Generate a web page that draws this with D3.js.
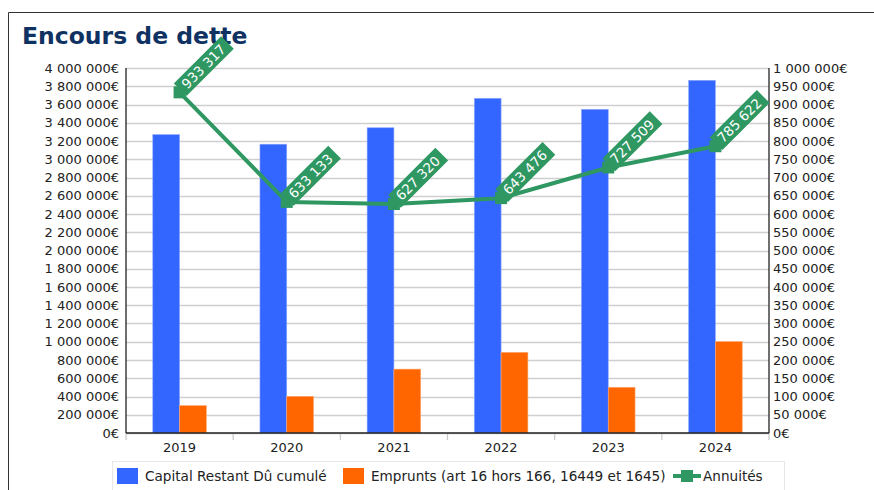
<!DOCTYPE html>
<html><head><meta charset="utf-8">
<script src="https://cdn.jsdelivr.net/npm/d3@7/dist/d3.min.js"></script>
<style>
html,body{margin:0;padding:0;background:#fff;}
text{font-family:"DejaVu Sans",sans-serif;}
</style></head>
<body>
<svg id="c" width="874" height="490"></svg>
<script>
const categories = ["2019","2020","2021","2022","2023","2024"];
const capitalRestantDu = [3270000, 3165000, 3345000, 3668000, 3547000, 3865000];
const emprunts = [300000, 402000, 700000, 884000, 501000, 1002000];
const annuites = [933317, 633133, 627320, 643476, 727509, 785622];
const leftTicks = d3.range(0, 4000001, 200000);
const rightTicks = d3.range(0, 1000001, 50000);
const seriesNames = ["Capital Restant Dû cumulé", "Emprunts (art 16 hors 166, 16449 et 1645)", "Annuités"];
const colors = {blue:"#3366ff", orange:"#ff6600", green:"#2f9762"};

const svg = d3.select("#c");
const loc = d3.formatLocale({decimal:",", thousands:" ", grouping:[3], currency:["","€"]});
const fmtE = v => loc.format(",")(v) + "€";
const fmtN = v => loc.format(",")(v);

// frame
svg.append("path").attr("d","M8.5,490 V12.5 H874").attr("fill","none").attr("stroke","#333").attr("stroke-width",1);

svg.append("text").attr("x",22).attr("y",44).attr("font-size",23.5).attr("font-weight","bold")
  .attr("fill","#0f3262").text("Encours de dette");

const L = 126, R = 769, T = 68, B = 433;
const x0 = d3.scaleBand().domain(categories).range([L,R]).paddingInner(0.5).paddingOuter(0.25);
const x1 = d3.scaleBand().domain([0,1]).range([0,x0.bandwidth()]);
const yL = d3.scaleLinear().domain([0,4000000]).range([B,T]);
const yR = d3.scaleLinear().domain([0,1000000]).range([B,T]);

// grid
svg.append("g").selectAll("line").data(leftTicks).join("line")
  .attr("x1",L).attr("x2",R).attr("y1",d=>Math.round(yL(d))+0.5).attr("y2",d=>Math.round(yL(d))+0.5)
  .attr("stroke","#cfcfcf").attr("stroke-width",1.6);

// x ticks at boundaries
const bounds = categories.map((c,i)=>L + i*x0.step()).concat([R]);
svg.append("g").selectAll("line").data(bounds).join("line")
  .attr("x1",d=>d).attr("x2",d=>d).attr("y1",B).attr("y2",B+7)
  .attr("stroke","#c8c8c8").attr("stroke-width",1.2);

// bars
const g = svg.append("g");
categories.forEach((c,i)=>{
  g.append("rect").attr("x",x0(c)+x1(0)).attr("width",x1.bandwidth())
    .attr("y",yL(capitalRestantDu[i])).attr("height",B-yL(capitalRestantDu[i]))
    .attr("fill",colors.blue).attr("stroke","#8fa8ff").attr("stroke-width",0.6);
  g.append("rect").attr("x",x0(c)+x1(1)).attr("width",x1.bandwidth())
    .attr("y",yL(emprunts[i])).attr("height",B-yL(emprunts[i]))
    .attr("fill",colors.orange).attr("stroke","#ffa870").attr("stroke-width",0.6);
});

// axes lines
svg.append("line").attr("x1",L).attr("x2",L).attr("y1",T).attr("y2",B).attr("stroke","#222").attr("stroke-width",1.3);
svg.append("line").attr("x1",R).attr("x2",R).attr("y1",T).attr("y2",B).attr("stroke","#222").attr("stroke-width",1.3);
svg.append("line").attr("x1",L).attr("x2",R).attr("y1",B).attr("y2",B).attr("stroke","#222").attr("stroke-width",1.3);

// left labels
const axL = d3.axisLeft(yL).tickValues(leftTicks).tickFormat(fmtE).tickSize(0).tickPadding(7);
const gl = svg.append("g").attr("transform",`translate(${L},0)`).call(axL);
gl.select(".domain").remove();
gl.selectAll("text").attr("font-size",13).attr("fill","#222").attr("font-family","DejaVu Sans");
const axR = d3.axisRight(yR).tickValues(rightTicks).tickFormat(fmtE).tickSize(0).tickPadding(4);
const gr = svg.append("g").attr("transform",`translate(${R},0)`).call(axR);
gr.select(".domain").remove();
gr.selectAll("text").attr("font-size",13).attr("fill","#222").attr("font-family","DejaVu Sans");
const axB = d3.axisBottom(x0).tickSize(0).tickPadding(10);
const gb = svg.append("g").attr("transform",`translate(0,${B})`).call(axB);
gb.select(".domain").remove();
gb.selectAll("text").attr("font-size",13).attr("fill","#222").attr("font-family","DejaVu Sans");

// line
const pts = categories.map((c,i)=>[x0(c)+x0.bandwidth()/2, yR(annuites[i])]);
svg.append("path").attr("d",d3.line()(pts)).attr("fill","none").attr("stroke",colors.green).attr("stroke-width",4).attr("stroke-linejoin","round");
svg.append("g").selectAll("rect").data(pts).join("rect")
  .attr("x",d=>d[0]-6).attr("y",d=>d[1]-6).attr("width",12).attr("height",12).attr("fill",colors.green);

// labels
const lg = svg.append("g");
pts.forEach((p,i)=>{
  const t = lg.append("g").attr("transform",`translate(${p[0]+2},${p[1]-4}) rotate(-45)`);
  const txt = t.append("text").attr("x",3).attr("y",0).attr("dy","0.36em").attr("font-size",13.5)
    .attr("fill","#fff").text(fmtN(annuites[i]));
  const w = txt.node().getComputedTextLength();
  t.insert("rect","text").attr("x",-2).attr("y",-9).attr("width",w+11).attr("height",18).attr("fill",colors.green);
});

// legend
const ly = 476;
const lfs = 13.6;
svg.append("rect").attr("x",112.5).attr("y",461.5).attr("width",672).attr("height",30).attr("fill","none").attr("stroke","#e6e6e6");
const leg = svg.append("g");
leg.append("rect").attr("x",117).attr("y",468).attr("width",21).attr("height",16).attr("fill",colors.blue);
leg.append("text").attr("x",145).attr("y",ly).attr("dy","0.36em").attr("font-size",lfs).attr("fill","#222").text(seriesNames[0]);
leg.append("rect").attr("x",343).attr("y",468).attr("width",21).attr("height",16).attr("fill",colors.orange);
leg.append("text").attr("x",371).attr("y",ly).attr("dy","0.36em").attr("font-size",lfs).attr("fill","#222").text(seriesNames[1]);
leg.append("line").attr("x1",673).attr("x2",701).attr("y1",ly).attr("y2",ly).attr("stroke",colors.green).attr("stroke-width",4);
leg.append("rect").attr("x",681).attr("y",ly-6).attr("width",12).attr("height",12).attr("fill",colors.green);
leg.append("text").attr("x",703).attr("y",ly).attr("dy","0.36em").attr("font-size",lfs).attr("fill","#222").text(seriesNames[2]);
</script>
</body></html>
